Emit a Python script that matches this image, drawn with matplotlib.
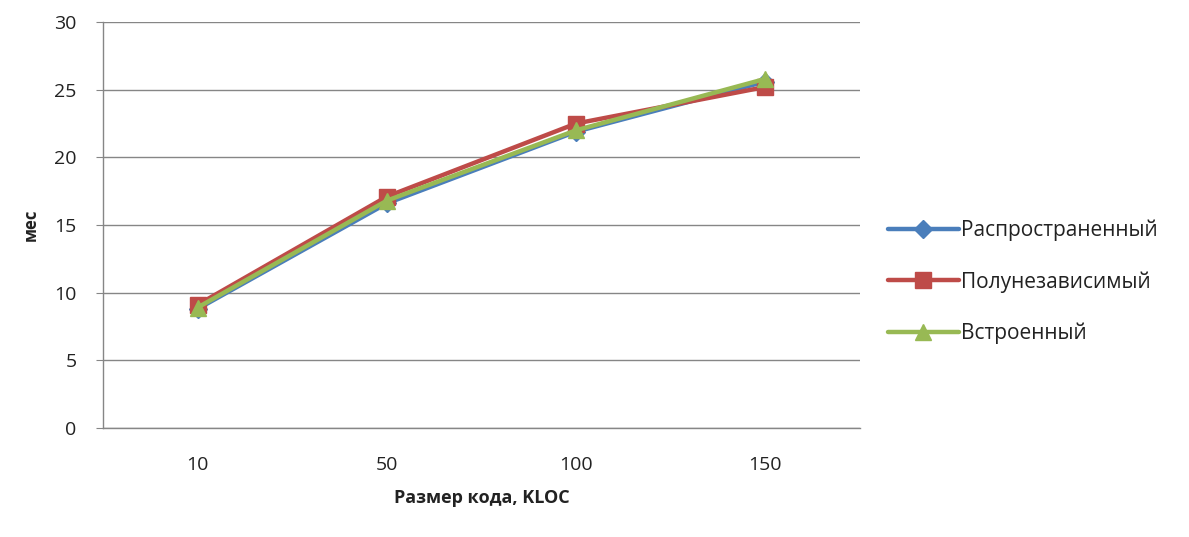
import matplotlib
matplotlib.use("Agg")
import matplotlib.pyplot as plt

# Development time (months) by code size for the three COCOMO modes
code_size = ["10", "50", "100", "150"]
organic = [8.8, 16.6, 21.9, 25.6]
semi_detached = [9.1, 17.1, 22.5, 25.2]
embedded = [8.9, 16.8, 22.0, 25.8]
y_ticks = [0, 5, 10, 15, 20, 25, 30]

plt.rcParams["font.family"] = ["Open Sans", "DejaVu Sans"]

fig = plt.figure(figsize=(11.89, 5.37), dpi=100)
ax = fig.add_axes([0.0866, 0.203, 0.6367, 0.756])

x = list(range(len(code_size)))
series = [
    ("Распространенный", organic, "#4A7EBB", "D", 9),
    ("Полунезависимый", semi_detached, "#BE4B48", "s", 11),
    ("Встроенный", embedded, "#98B954", "^", 11),
]
for name, vals, color, marker, ms in series:
    ax.plot(x, vals, color=color, lw=3.2, marker=marker, markersize=ms,
            markeredgecolor=color, label=name, solid_capstyle="round")

ax.set_xlim(-0.5, len(code_size) - 0.5)
ax.set_ylim(0, 30)
ax.set_yticks(y_ticks)
ax.set_xticks(x)
ax.set_xticklabels(code_size)
ax.yaxis.grid(True, color="#868686", lw=1)
ax.set_axisbelow(True)

for side in ("top", "right"):
    ax.spines[side].set_visible(False)
for side in ("left", "bottom"):
    ax.spines[side].set_color("#868686")
    ax.spines[side].set_linewidth(1)

ax.tick_params(axis="y", length=5, color="#868686", labelsize=14, pad=14,
               labelcolor="#222222")
ax.tick_params(axis="x", length=0, labelsize=14, pad=20, labelcolor="#222222")

ax.set_xlabel("Размер кода, KLOC", fontsize=13, fontweight="bold", labelpad=11,
              color="#222222")
ax.set_ylabel("мес", fontsize=12, fontweight="bold", labelpad=10, color="#222222")

leg = fig.legend(loc="center left", bbox_to_anchor=(0.731, 0.475), frameon=False,
                 fontsize=15, handlelength=3.4, labelspacing=1.45,
                 handletextpad=0.1)
for t in leg.get_texts():
    t.set_color("#222222")

fig.savefig("out.png", dpi=100, facecolor="white")
